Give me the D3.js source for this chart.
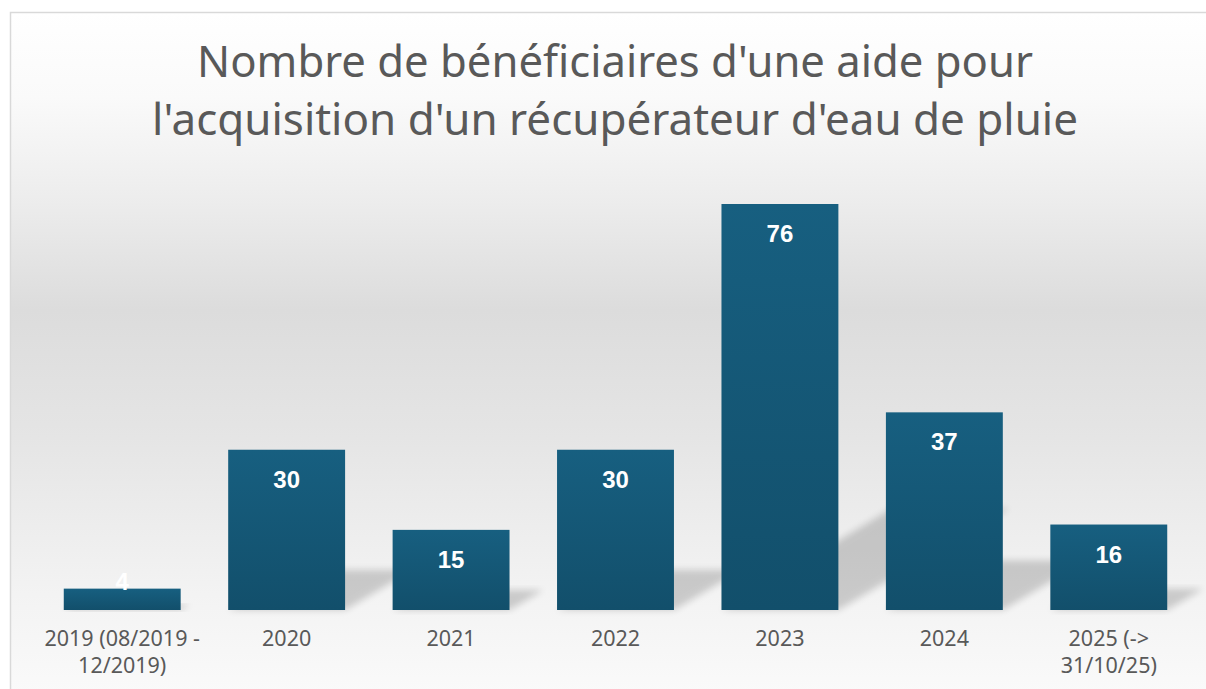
<!DOCTYPE html>
<html><head><meta charset="utf-8">
<script src="https://cdn.jsdelivr.net/npm/d3@7"></script>
<style>html,body{margin:0;padding:0;background:#fff;}svg{display:block;}</style>
</head><body>
<script>
const categories = ["2019 (08/2019 -\n12/2019)", "2020", "2021", "2022", "2023", "2024", "2025 (->\n31/10/25)"];
const values = [4, 30, 15, 30, 76, 37, 16];
const titleLines = ["Nombre de bénéficiaires d'une aide pour", "l'acquisition d'un récupérateur d'eau de pluie"];

const W = 1206, H = 689;
const svg = d3.select("body").append("svg").attr("width", W).attr("height", H);
const defs = svg.append("defs");

const bg = defs.append("linearGradient").attr("id","bg").attr("x1",0).attr("y1",0).attr("x2",0).attr("y2",1);
[[0,"#ffffff"],[0.12,"#fafafa"],[0.27,"#ececec"],[0.42,"#dcdcdc"],[0.6,"#e5e5e5"],[0.82,"#f3f3f3"],[1,"#fcfcfc"]]
  .forEach(s=>bg.append("stop").attr("offset",s[0]).attr("stop-color",s[1]));

const bg2 = defs.append("linearGradient").attr("id","bar").attr("x1",0).attr("y1",0).attr("x2",0).attr("y2",1);
bg2.append("stop").attr("offset",0).attr("stop-color","#175f80");
bg2.append("stop").attr("offset",1).attr("stop-color","#124f6b");

defs.append("filter").attr("id","blur").attr("x","-20%").attr("y","-20%").attr("width","140%").attr("height","140%")
  .append("feGaussianBlur").attr("stdDeviation",3.5);

svg.append("rect").attr("x",10.5).attr("y",12.5).attr("width",W+20).attr("height",H+20)
  .attr("fill","url(#bg)").attr("stroke","#d9d9d9").attr("stroke-width",1.5);

const x = d3.scaleBand().domain(categories).range([40, 1191]).paddingInner(0.289).paddingOuter(0.1445);
const y = d3.scaleLinear().domain([0, 76]).range([610, 204]);

// shadows
const g = svg.append("g");
g.selectAll("path.sh").data(values).join("path").attr("class","sh")
  .attr("d",(v,i)=>{
    const x0 = x(categories[i]), x1 = x0 + x.bandwidth(), b = y(0), h = y(0)-y(v);
    const dx = 0.42*h, dy = 0.25*h;
    return `M${x0},${b}L${x1},${b}L${x1+dx},${b-dy}L${x0+dx},${b-dy}Z`;
  })
  .attr("fill","#000").attr("opacity",0.17).attr("filter","url(#blur)");

// bars
g.selectAll("rect.bar").data(values).join("rect").attr("class","bar")
  .attr("x",(v,i)=>x(categories[i])).attr("width",x.bandwidth())
  .attr("y",v=>y(v)).attr("height",v=>y(0)-y(v)).attr("fill","url(#bar)");

// data labels
g.selectAll("text.val").data(values).join("text").attr("class","val")
  .attr("x",(v,i)=>x(categories[i])+x.bandwidth()/2)
  .attr("y",v=>Math.min(y(v)+38, y(0)-20))
  .attr("text-anchor","middle").attr("fill","#ffffff")
  .attr("font-family","'Liberation Sans', Arial, sans-serif").attr("font-weight","bold").attr("font-size",24)
  .text(v=>v);

// axis labels
const ax = svg.append("g");
categories.forEach(c=>{
  const t = ax.append("text").attr("x",x(c)+x.bandwidth()/2).attr("y",646)
    .attr("text-anchor","middle").attr("fill","#595959")
    .attr("font-family","'Noto Sans', sans-serif").attr("font-size",21.5);
  c.split("\n").forEach((l,k)=>t.append("tspan").attr("x",x(c)+x.bandwidth()/2).attr("dy",k?27:0).text(l));
});

// title
const tg = svg.append("g");
const titleW = [836, 926];
titleLines.forEach((l,i)=>{
  const t = tg.append("text").attr("x",615).attr("y",i?135:77).attr("text-anchor","middle")
    .attr("fill","#595959").attr("font-family","'Noto Sans', sans-serif").attr("font-size",40).text(l);
  const w = t.node().getComputedTextLength();
  t.attr("font-size", 40*titleW[i]/w);
});
</script>
</body></html>
